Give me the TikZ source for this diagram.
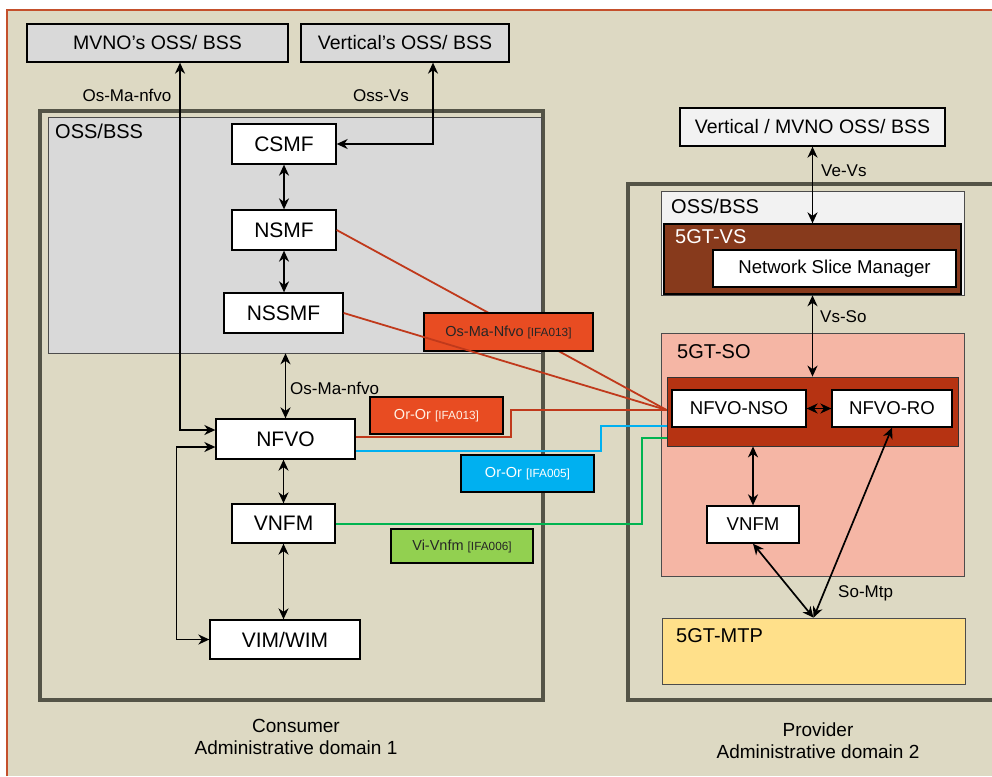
\documentclass[tikz,border=0pt]{standalone}
\usepackage{fontspec}
\setmainfont{Liberation Sans}
\usetikzlibrary{arrows.meta,calc}
\definecolor{bgb}{HTML}{DDD9C3}
\definecolor{framec}{HTML}{C4502C}
\definecolor{domc}{HTML}{545447}
\definecolor{grayp}{HTML}{D9D9D9}
\definecolor{lightp}{HTML}{F2F2F2}
\definecolor{vsc}{HTML}{873A1C}
\definecolor{soc}{HTML}{F5B6A5}
\definecolor{nfc}{HTML}{B63312}
\definecolor{mtpc}{HTML}{FFE08A}
\definecolor{orng}{HTML}{E84C22}
\definecolor{bluec}{HTML}{00B0F0}
\definecolor{greenl}{HTML}{92D050}
\definecolor{vnfmline}{RGB}{0,180,80}
\definecolor{redl}{HTML}{C0391B}
\newcommand\fsBox{\fontsize{21}{25}\selectfont}
\newcommand\fsTop{\fontsize{19.5}{23}\selectfont}
\newcommand\fsMid{\fontsize{18.6}{22}\selectfont}
\newcommand\fsLab{\fontsize{17}{20}\selectfont}
\newcommand\fsTitle{\fontsize{20}{24}\selectfont}
\newcommand\fsIf{\fontsize{14.5}{17}\selectfont}
\newcommand\fsIfs{\fontsize{11.8}{14}\selectfont}
\begin{document}
\begin{tikzpicture}[x=1pt,y=-1pt,
  box/.style={draw=black, line width=1.3pt, fill=white, inner sep=0pt, font=\fsBox, text=black},
  midbox/.style={box, font=\fsMid},
  topbox/.style={draw=black, line width=1.3pt, fill=grayp, inner sep=0pt, font=\fsTop},
  admdom/.style={draw=domc, line width=4pt, inner sep=0pt},
  panel/.style={draw=black!70, line width=0.6pt, inner sep=0pt},
  lbl/.style={inner sep=0pt, font=\fsLab, text=black},
  ttl/.style={inner sep=0pt, font=\fsTitle, text=black},
  ifbox/.style={draw=black, line width=1.3pt, inner sep=0pt},
  arr/.style={line width=1.7pt, {Stealth[length=11pt,width=10pt,inset=3.5pt]}-{Stealth[length=11pt,width=10pt,inset=3.5pt]}},
  ifl/.style={line width=1.8pt}
]
\useasboundingbox (0,0) rectangle (992,776);
\clip (0,0) rectangle (992,776);
\fill[white] (0,0) rectangle (992,776);
\fill[bgb] (7,10) rectangle (992,776);
\draw[framec, line width=2pt] (7,776) -- (7,10) -- (992,10);

% ---------------- top boxes ----------------
\node[topbox, minimum width=261, minimum height=38] (mvno) at (157.5,43) {MVNO’s OSS/ BSS};
\node[topbox, minimum width=208, minimum height=38] (vert) at (405,43) {Vertical’s OSS/ BSS};
\node[topbox, fill=lightp, minimum width=265, minimum height=38] (vmo) at (812.5,127) {Vertical / MVNO OSS/ BSS};

% ---------------- consumer domain ----------------
\node[admdom, minimum width=503, minimum height=589] (dom1) at (291.5,405.5) {};
\node[panel, fill=grayp, minimum width=493, minimum height=236] (ossL) at (294.5,235) {};
\node[ttl, anchor=west] (ossLt) at (55,131) {OSS/BSS};

\node[box, minimum width=104, minimum height=40] (csmf) at (284,144) {CSMF};
\node[box, minimum width=104, minimum height=40] (nsmf) at (284,230) {NSMF};
\node[box, minimum width=119, minimum height=40] (nssmf) at (283.5,313) {NSSMF};
\node[box, minimum width=139, minimum height=40] (nfvo) at (285.5,439) {NFVO};
\node[box, minimum width=103, minimum height=39] (vnfm) at (283.5,523.5) {VNFM};
\node[box, minimum width=150, minimum height=39] (vim) at (285,639.5) {VIM/WIM};

% ---------------- provider domain ----------------
\node[admdom, minimum width=382, minimum height=516] (dom2) at (819,442) {};
\node[panel, fill=lightp, minimum width=303, minimum height=104] (ossR) at (812.5,243) {};
\node[ttl, anchor=west] (ossRt) at (671,206) {OSS/BSS};
\node[draw=black, line width=1.3pt, fill=vsc, inner sep=0pt, minimum width=297, minimum height=70] (vs) at (812.5,259) {};
\node[ttl, anchor=west, text=white] (vst) at (675,237) {5GT-VS};
\node[midbox, minimum width=243, minimum height=37] (nsm) at (834.5,268.5) {Network Slice Manager};

\node[panel, fill=soc, minimum width=303, minimum height=243] (so) at (812.5,454.5) {};
\node[ttl, anchor=west] (sot) at (677,352) {5GT-SO};
\node[draw=black!80, line width=0.8pt, fill=nfc, inner sep=0pt, minimum width=291, minimum height=69] (nfin) at (812.5,411.5) {};
\node[midbox, minimum width=134, minimum height=37] (nso) at (739,408.5) {NFVO-NSO};
\node[midbox, minimum width=120, minimum height=37] (ro) at (892,408.5) {NFVO-RO};
\node[midbox, minimum width=92, minimum height=37] (vnfmR) at (753,524.5) {VNFM};
\node[panel, fill=mtpc, minimum width=303, minimum height=66] (mtp) at (813.5,651) {};
\node[ttl, anchor=west] (mtpt) at (676,636) {5GT-MTP};

% ---------------- coloured interface lines ----------------
\coordinate (conv) at ($(nfin.west)+(0,-1.5)$);
\draw[draw=redl, ifl] (nsmf.east) -- (conv);
\node[ifbox, fill=orng, minimum width=169, minimum height=38, text=black!85] (l1) at (508.5,332) {\fsIf Os-Ma-Nfvo {\fsIfs[IFA013]}};
\draw[draw=redl, ifl] (nssmf.east) -- (conv);
\draw[draw=redl, ifl] ($(nfvo.east)+(0,-2)$) -- ++(155,0) |- (conv);
\draw[draw=bluec, ifl] ($(nfvo.east)+(0,12)$) -- ++(245,0) |- ($(nfin.west)+(0,14.5)$);
\draw[color=vnfmline, line width=2pt] ($(vnfm.east)+(0,0.5)$) -- ++(306,0) |- ($(nfin.west)+(0,26.5)$);

\node[ifbox, fill=orng, minimum width=133, minimum height=37, text=white!90!orange] (l2) at (436.5,415.5) {\fsIf Or-Or {\fsIfs[IFA013]}};
\node[ifbox, fill=bluec, minimum width=133, minimum height=37, text=white] (l3) at (527.5,473.5) {\fsIf Or-Or {\fsIfs[IFA005]}};
\node[ifbox, fill=greenl, minimum width=142, minimum height=34, text=black!85] (l4) at (462,546) {\fsIf Vi-Vnfm {\fsIfs[IFA006]}};

% ---------------- black arrows, consumer ----------------
\coordinate (xa) at (180,0);
\coordinate (xb) at (433,0);
\draw[arr] (mvno.south -| xa) |- ($(nfvo.west)+(0,-9)$);
\draw[arr] (vert.south -| xb) |- (csmf.east);
\draw[arr] (csmf.south) -- (nsmf.north);
\draw[arr] (nsmf.south) -- (nssmf.north -| nsmf.south);
\draw[arr] (ossL.south -| nfvo.north) -- (nfvo.north);
\draw[arr] (nfvo.south -| vnfm.north) -- (vnfm.north);
\draw[arr] (vnfm.south) -- (vim.north -| vnfm.south);
\draw[arr] (vim.west) -- ++(-33,0) |- ($(nfvo.west)+(0,8)$);

\node[lbl] (t1) at (127,95) {Os-Ma-nfvo};
\node[lbl] (t2) at (381,96) {Oss-Vs};
\node[lbl, anchor=west] (t3) at (290,388) {Os-Ma-nfvo};

% ---------------- black arrows, provider ----------------
\draw[arr] (vmo.south) -- (vs.north);
\draw[arr] (ossR.south) -- (nfin.north);
\draw[arr] (nso.east) -- (ro.west);
\draw[arr] (nfin.south -| vnfmR.north) -- (vnfmR.north);
\draw[arr] (vnfmR.south) -- (mtp.north);
\draw[arr] (ro.south) -- (mtp.north);

\node[lbl, anchor=west] (t4) at (821,171) {Ve-Vs};
\node[lbl, anchor=west] (t5) at (820,317) {Vs-So};
\node[lbl, anchor=west] (t6) at (838,593) {So-Mtp};

% ---------------- domain captions ----------------
\node[inner sep=0pt, font=\fontsize{19}{22}\selectfont, align=center] (c1) at (296,737) {Consumer\\Administrative domain 1};
\node[inner sep=0pt, font=\fontsize{19}{22}\selectfont, align=center] (c2) at (818,741) {Provider\\Administrative domain 2};
\end{tikzpicture}
\end{document}
